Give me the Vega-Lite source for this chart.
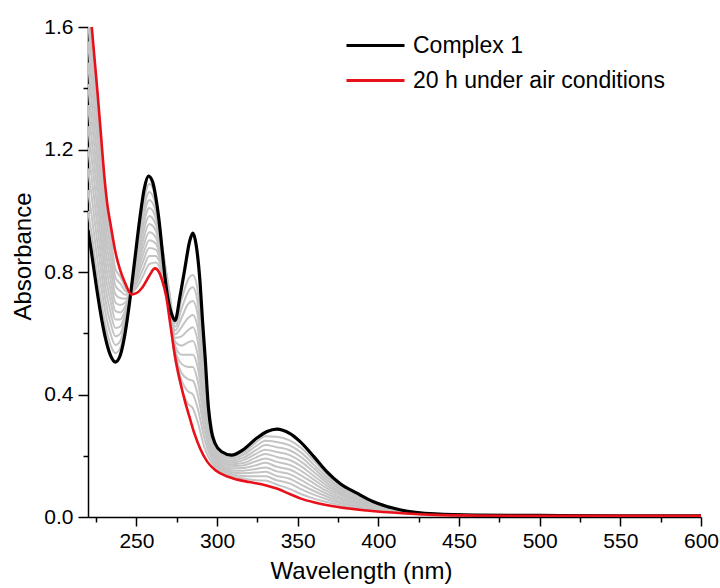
{
  "$schema": "https://vega.github.io/schema/vega-lite/v6.json",
  "width": 613,
  "height": 490,
  "autosize": {"type": "none"},
  "padding": {"left": 88, "top": 27, "right": 19, "bottom": 71},
  "background": "white",
  "config": {"view": {"stroke": null}, "font": "Liberation Sans"},
  "datasets": {
    "gray": [
      {"s":"g1","w":220,"a":0.999},{"s":"g2","w":220,"a":1.068},{"s":"g3","w":220,"a":1.138},{"s":"g4","w":220,"a":1.207},{"s":"g5","w":220,"a":1.276},{"s":"g6","w":220,"a":1.345},{"s":"g7","w":220,"a":1.414},{"s":"g8","w":220,"a":1.484},{"s":"g9","w":220,"a":1.553},{"s":"g10","w":220,"a":1.622},{"s":"g11","w":220,"a":1.691},
      {"s":"g1","w":222,"a":0.933},{"s":"g2","w":222,"a":0.995},{"s":"g3","w":222,"a":1.058},{"s":"g4","w":222,"a":1.12},{"s":"g5","w":222,"a":1.183},{"s":"g6","w":222,"a":1.245},{"s":"g7","w":222,"a":1.308},{"s":"g8","w":222,"a":1.37},{"s":"g9","w":222,"a":1.433},{"s":"g10","w":222,"a":1.495},{"s":"g11","w":222,"a":1.558},
      {"s":"g1","w":225,"a":0.817},{"s":"g2","w":225,"a":0.873},{"s":"g3","w":225,"a":0.93},{"s":"g4","w":225,"a":0.987},{"s":"g5","w":225,"a":1.043},{"s":"g6","w":225,"a":1.1},{"s":"g7","w":225,"a":1.157},{"s":"g8","w":225,"a":1.213},{"s":"g9","w":225,"a":1.27},{"s":"g10","w":225,"a":1.327},{"s":"g11","w":225,"a":1.383},
      {"s":"g1","w":228,"a":0.709},{"s":"g2","w":228,"a":0.758},{"s":"g3","w":228,"a":0.808},{"s":"g4","w":228,"a":0.857},{"s":"g5","w":228,"a":0.906},{"s":"g6","w":228,"a":0.955},{"s":"g7","w":228,"a":1.004},{"s":"g8","w":228,"a":1.053},{"s":"g9","w":228,"a":1.103},{"s":"g10","w":228,"a":1.152},{"s":"g11","w":228,"a":1.201},
      {"s":"g1","w":231,"a":0.621},{"s":"g2","w":231,"a":0.662},{"s":"g3","w":231,"a":0.702},{"s":"g4","w":231,"a":0.743},{"s":"g5","w":231,"a":0.784},{"s":"g6","w":231,"a":0.825},{"s":"g7","w":231,"a":0.866},{"s":"g8","w":231,"a":0.907},{"s":"g9","w":231,"a":0.947},{"s":"g10","w":231,"a":0.988},{"s":"g11","w":231,"a":1.029},
      {"s":"g1","w":234,"a":0.561},{"s":"g2","w":234,"a":0.597},{"s":"g3","w":234,"a":0.633},{"s":"g4","w":234,"a":0.668},{"s":"g5","w":234,"a":0.704},{"s":"g6","w":234,"a":0.74},{"s":"g7","w":234,"a":0.776},{"s":"g8","w":234,"a":0.812},{"s":"g9","w":234,"a":0.848},{"s":"g10","w":234,"a":0.883},{"s":"g11","w":234,"a":0.919},
      {"s":"g1","w":237,"a":0.535},{"s":"g2","w":237,"a":0.562},{"s":"g3","w":237,"a":0.59},{"s":"g4","w":237,"a":0.617},{"s":"g5","w":237,"a":0.645},{"s":"g6","w":237,"a":0.672},{"s":"g7","w":237,"a":0.7},{"s":"g8","w":237,"a":0.727},{"s":"g9","w":237,"a":0.755},{"s":"g10","w":237,"a":0.782},{"s":"g11","w":237,"a":0.81},
      {"s":"g1","w":240,"a":0.552},{"s":"g2","w":240,"a":0.575},{"s":"g3","w":240,"a":0.598},{"s":"g4","w":240,"a":0.622},{"s":"g5","w":240,"a":0.645},{"s":"g6","w":240,"a":0.668},{"s":"g7","w":240,"a":0.692},{"s":"g8","w":240,"a":0.715},{"s":"g9","w":240,"a":0.738},{"s":"g10","w":240,"a":0.762},{"s":"g11","w":240,"a":0.785},
      {"s":"g1","w":243,"a":0.622},{"s":"g2","w":243,"a":0.635},{"s":"g3","w":243,"a":0.648},{"s":"g4","w":243,"a":0.661},{"s":"g5","w":243,"a":0.674},{"s":"g6","w":243,"a":0.687},{"s":"g7","w":243,"a":0.7},{"s":"g8","w":243,"a":0.713},{"s":"g9","w":243,"a":0.726},{"s":"g10","w":243,"a":0.739},{"s":"g11","w":243,"a":0.752},
      {"s":"g1","w":246,"a":0.721},{"s":"g2","w":246,"a":0.722},{"s":"g3","w":246,"a":0.723},{"s":"g4","w":246,"a":0.724},{"s":"g5","w":246,"a":0.725},{"s":"g6","w":246,"a":0.726},{"s":"g7","w":246,"a":0.727},{"s":"g8","w":246,"a":0.728},{"s":"g9","w":246,"a":0.729},{"s":"g10","w":246,"a":0.73},{"s":"g11","w":246,"a":0.731},
      {"s":"g1","w":250,"a":0.877},{"s":"g2","w":250,"a":0.864},{"s":"g3","w":250,"a":0.851},{"s":"g4","w":250,"a":0.838},{"s":"g5","w":250,"a":0.825},{"s":"g6","w":250,"a":0.813},{"s":"g7","w":250,"a":0.8},{"s":"g8","w":250,"a":0.787},{"s":"g9","w":250,"a":0.774},{"s":"g10","w":250,"a":0.761},{"s":"g11","w":250,"a":0.748},
      {"s":"g1","w":254,"a":1.017},{"s":"g2","w":254,"a":0.994},{"s":"g3","w":254,"a":0.971},{"s":"g4","w":254,"a":0.947},{"s":"g5","w":254,"a":0.924},{"s":"g6","w":254,"a":0.901},{"s":"g7","w":254,"a":0.878},{"s":"g8","w":254,"a":0.855},{"s":"g9","w":254,"a":0.832},{"s":"g10","w":254,"a":0.808},{"s":"g11","w":254,"a":0.785},
      {"s":"g1","w":258,"a":1.087},{"s":"g2","w":258,"a":1.061},{"s":"g3","w":258,"a":1.035},{"s":"g4","w":258,"a":1.009},{"s":"g5","w":258,"a":0.983},{"s":"g6","w":258,"a":0.957},{"s":"g7","w":258,"a":0.93},{"s":"g8","w":258,"a":0.904},{"s":"g9","w":258,"a":0.878},{"s":"g10","w":258,"a":0.852},{"s":"g11","w":258,"a":0.826},
      {"s":"g1","w":262,"a":1.039},{"s":"g2","w":262,"a":1.018},{"s":"g3","w":262,"a":0.998},{"s":"g4","w":262,"a":0.977},{"s":"g5","w":262,"a":0.956},{"s":"g6","w":262,"a":0.935},{"s":"g7","w":262,"a":0.914},{"s":"g8","w":262,"a":0.893},{"s":"g9","w":262,"a":0.873},{"s":"g10","w":262,"a":0.852},{"s":"g11","w":262,"a":0.831},
      {"s":"g1","w":266,"a":0.888},{"s":"g2","w":266,"a":0.88},{"s":"g3","w":266,"a":0.872},{"s":"g4","w":266,"a":0.864},{"s":"g5","w":266,"a":0.855},{"s":"g6","w":266,"a":0.846},{"s":"g7","w":266,"a":0.836},{"s":"g8","w":266,"a":0.826},{"s":"g9","w":266,"a":0.815},{"s":"g10","w":266,"a":0.803},{"s":"g11","w":266,"a":0.79},
      {"s":"g1","w":270,"a":0.75},{"s":"g2","w":270,"a":0.746},{"s":"g3","w":270,"a":0.742},{"s":"g4","w":270,"a":0.738},{"s":"g5","w":270,"a":0.733},{"s":"g6","w":270,"a":0.727},{"s":"g7","w":270,"a":0.72},{"s":"g8","w":270,"a":0.712},{"s":"g9","w":270,"a":0.703},{"s":"g10","w":270,"a":0.693},{"s":"g11","w":270,"a":0.682},
      {"s":"g1","w":274,"a":0.633},{"s":"g2","w":274,"a":0.621},{"s":"g3","w":274,"a":0.609},{"s":"g4","w":274,"a":0.597},{"s":"g5","w":274,"a":0.585},{"s":"g6","w":274,"a":0.573},{"s":"g7","w":274,"a":0.56},{"s":"g8","w":274,"a":0.548},{"s":"g9","w":274,"a":0.536},{"s":"g10","w":274,"a":0.524},{"s":"g11","w":274,"a":0.512},
      {"s":"g1","w":278,"a":0.71},{"s":"g2","w":278,"a":0.68},{"s":"g3","w":278,"a":0.65},{"s":"g4","w":278,"a":0.62},{"s":"g5","w":278,"a":0.59},{"s":"g6","w":278,"a":0.56},{"s":"g7","w":278,"a":0.53},{"s":"g8","w":278,"a":0.5},{"s":"g9","w":278,"a":0.47},{"s":"g10","w":278,"a":0.445},{"s":"g11","w":278,"a":0.42},
      {"s":"g1","w":282,"a":0.775},{"s":"g2","w":282,"a":0.735},{"s":"g3","w":282,"a":0.695},{"s":"g4","w":282,"a":0.65},{"s":"g5","w":282,"a":0.61},{"s":"g6","w":282,"a":0.57},{"s":"g7","w":282,"a":0.53},{"s":"g8","w":282,"a":0.49},{"s":"g9","w":282,"a":0.45},{"s":"g10","w":282,"a":0.41},{"s":"g11","w":282,"a":0.37},
      {"s":"g1","w":285,"a":0.79},{"s":"g2","w":285,"a":0.75},{"s":"g3","w":285,"a":0.705},{"s":"g4","w":285,"a":0.66},{"s":"g5","w":285,"a":0.62},{"s":"g6","w":285,"a":0.575},{"s":"g7","w":285,"a":0.53},{"s":"g8","w":285,"a":0.49},{"s":"g9","w":285,"a":0.445},{"s":"g10","w":285,"a":0.4},{"s":"g11","w":285,"a":0.355},
      {"s":"g1","w":288,"a":0.74},{"s":"g2","w":288,"a":0.7},{"s":"g3","w":288,"a":0.66},{"s":"g4","w":288,"a":0.62},{"s":"g5","w":288,"a":0.575},{"s":"g6","w":288,"a":0.53},{"s":"g7","w":288,"a":0.49},{"s":"g8","w":288,"a":0.445},{"s":"g9","w":288,"a":0.4},{"s":"g10","w":288,"a":0.355},{"s":"g11","w":288,"a":0.31},
      {"s":"g1","w":292,"a":0.5},{"s":"g2","w":292,"a":0.47},{"s":"g3","w":292,"a":0.45},{"s":"g4","w":292,"a":0.42},{"s":"g5","w":292,"a":0.4},{"s":"g6","w":292,"a":0.37},{"s":"g7","w":292,"a":0.35},{"s":"g8","w":292,"a":0.32},{"s":"g9","w":292,"a":0.29},{"s":"g10","w":292,"a":0.26},{"s":"g11","w":292,"a":0.23},
      {"s":"g1","w":296,"a":0.317},{"s":"g2","w":296,"a":0.303},{"s":"g3","w":296,"a":0.29},{"s":"g4","w":296,"a":0.277},{"s":"g5","w":296,"a":0.263},{"s":"g6","w":296,"a":0.25},{"s":"g7","w":296,"a":0.237},{"s":"g8","w":296,"a":0.223},{"s":"g9","w":296,"a":0.21},{"s":"g10","w":296,"a":0.197},{"s":"g11","w":296,"a":0.183},
      {"s":"g1","w":300,"a":0.228},{"s":"g2","w":300,"a":0.221},{"s":"g3","w":300,"a":0.214},{"s":"g4","w":300,"a":0.207},{"s":"g5","w":300,"a":0.2},{"s":"g6","w":300,"a":0.193},{"s":"g7","w":300,"a":0.185},{"s":"g8","w":300,"a":0.178},{"s":"g9","w":300,"a":0.171},{"s":"g10","w":300,"a":0.164},{"s":"g11","w":300,"a":0.157},
      {"s":"g1","w":308,"a":0.196},{"s":"g2","w":308,"a":0.19},{"s":"g3","w":308,"a":0.184},{"s":"g4","w":308,"a":0.178},{"s":"g5","w":308,"a":0.172},{"s":"g6","w":308,"a":0.166},{"s":"g7","w":308,"a":0.159},{"s":"g8","w":308,"a":0.153},{"s":"g9","w":308,"a":0.147},{"s":"g10","w":308,"a":0.141},{"s":"g11","w":308,"a":0.135},
      {"s":"g1","w":316,"a":0.21},{"s":"g2","w":316,"a":0.202},{"s":"g3","w":316,"a":0.193},{"s":"g4","w":316,"a":0.185},{"s":"g5","w":316,"a":0.176},{"s":"g6","w":316,"a":0.168},{"s":"g7","w":316,"a":0.16},{"s":"g8","w":316,"a":0.151},{"s":"g9","w":316,"a":0.143},{"s":"g10","w":316,"a":0.134},{"s":"g11","w":316,"a":0.126},
      {"s":"g1","w":324,"a":0.243},{"s":"g2","w":324,"a":0.231},{"s":"g3","w":324,"a":0.218},{"s":"g4","w":324,"a":0.206},{"s":"g5","w":324,"a":0.194},{"s":"g6","w":324,"a":0.182},{"s":"g7","w":324,"a":0.169},{"s":"g8","w":324,"a":0.157},{"s":"g9","w":324,"a":0.145},{"s":"g10","w":324,"a":0.133},{"s":"g11","w":324,"a":0.12},
      {"s":"g1","w":330,"a":0.264},{"s":"g2","w":330,"a":0.249},{"s":"g3","w":330,"a":0.235},{"s":"g4","w":330,"a":0.22},{"s":"g5","w":330,"a":0.206},{"s":"g6","w":330,"a":0.191},{"s":"g7","w":330,"a":0.177},{"s":"g8","w":330,"a":0.162},{"s":"g9","w":330,"a":0.148},{"s":"g10","w":330,"a":0.133},{"s":"g11","w":330,"a":0.119},
      {"s":"g1","w":337,"a":0.262},{"s":"g2","w":337,"a":0.245},{"s":"g3","w":337,"a":0.228},{"s":"g4","w":337,"a":0.212},{"s":"g5","w":337,"a":0.196},{"s":"g6","w":337,"a":0.18},{"s":"g7","w":337,"a":0.164},{"s":"g8","w":337,"a":0.149},{"s":"g9","w":337,"a":0.134},{"s":"g10","w":337,"a":0.12},{"s":"g11","w":337,"a":0.106},
      {"s":"g1","w":345,"a":0.25},{"s":"g2","w":345,"a":0.234},{"s":"g3","w":345,"a":0.218},{"s":"g4","w":345,"a":0.202},{"s":"g5","w":345,"a":0.186},{"s":"g6","w":345,"a":0.17},{"s":"g7","w":345,"a":0.155},{"s":"g8","w":345,"a":0.14},{"s":"g9","w":345,"a":0.125},{"s":"g10","w":345,"a":0.11},{"s":"g11","w":345,"a":0.092},
      {"s":"g1","w":352,"a":0.226},{"s":"g2","w":352,"a":0.211},{"s":"g3","w":352,"a":0.196},{"s":"g4","w":352,"a":0.181},{"s":"g5","w":352,"a":0.166},{"s":"g6","w":352,"a":0.151},{"s":"g7","w":352,"a":0.136},{"s":"g8","w":352,"a":0.121},{"s":"g9","w":352,"a":0.106},{"s":"g10","w":352,"a":0.091},{"s":"g11","w":352,"a":0.075},
      {"s":"g1","w":360,"a":0.184},{"s":"g2","w":360,"a":0.171},{"s":"g3","w":360,"a":0.159},{"s":"g4","w":360,"a":0.147},{"s":"g5","w":360,"a":0.134},{"s":"g6","w":360,"a":0.122},{"s":"g7","w":360,"a":0.11},{"s":"g8","w":360,"a":0.097},{"s":"g9","w":360,"a":0.085},{"s":"g10","w":360,"a":0.073},{"s":"g11","w":360,"a":0.06},
      {"s":"g1","w":368,"a":0.139},{"s":"g2","w":368,"a":0.13},{"s":"g3","w":368,"a":0.121},{"s":"g4","w":368,"a":0.112},{"s":"g5","w":368,"a":0.103},{"s":"g6","w":368,"a":0.094},{"s":"g7","w":368,"a":0.085},{"s":"g8","w":368,"a":0.076},{"s":"g9","w":368,"a":0.067},{"s":"g10","w":368,"a":0.058},{"s":"g11","w":368,"a":0.049},
      {"s":"g1","w":376,"a":0.104},{"s":"g2","w":376,"a":0.097},{"s":"g3","w":376,"a":0.091},{"s":"g4","w":376,"a":0.084},{"s":"g5","w":376,"a":0.078},{"s":"g6","w":376,"a":0.072},{"s":"g7","w":376,"a":0.065},{"s":"g8","w":376,"a":0.059},{"s":"g9","w":376,"a":0.052},{"s":"g10","w":376,"a":0.046},{"s":"g11","w":376,"a":0.039},
      {"s":"g1","w":387,"a":0.073},{"s":"g2","w":387,"a":0.068},{"s":"g3","w":387,"a":0.064},{"s":"g4","w":387,"a":0.059},{"s":"g5","w":387,"a":0.055},{"s":"g6","w":387,"a":0.051},{"s":"g7","w":387,"a":0.046},{"s":"g8","w":387,"a":0.042},{"s":"g9","w":387,"a":0.037},{"s":"g10","w":387,"a":0.033},{"s":"g11","w":387,"a":0.028},
      {"s":"g1","w":397,"a":0.047},{"s":"g2","w":397,"a":0.045},{"s":"g3","w":397,"a":0.042},{"s":"g4","w":397,"a":0.04},{"s":"g5","w":397,"a":0.037},{"s":"g6","w":397,"a":0.035},{"s":"g7","w":397,"a":0.032},{"s":"g8","w":397,"a":0.029},{"s":"g9","w":397,"a":0.027},{"s":"g10","w":397,"a":0.024},{"s":"g11","w":397,"a":0.022},
      {"s":"g1","w":414,"a":0.022},{"s":"g2","w":414,"a":0.021},{"s":"g3","w":414,"a":0.02},{"s":"g4","w":414,"a":0.019},{"s":"g5","w":414,"a":0.018},{"s":"g6","w":414,"a":0.018},{"s":"g7","w":414,"a":0.017},{"s":"g8","w":414,"a":0.016},{"s":"g9","w":414,"a":0.015},{"s":"g10","w":414,"a":0.014},{"s":"g11","w":414,"a":0.013},
      {"s":"g1","w":435,"a":0.01},{"s":"g2","w":435,"a":0.01},{"s":"g3","w":435,"a":0.009},{"s":"g4","w":435,"a":0.009},{"s":"g5","w":435,"a":0.009},{"s":"g6","w":435,"a":0.009},{"s":"g7","w":435,"a":0.008},{"s":"g8","w":435,"a":0.008},{"s":"g9","w":435,"a":0.008},{"s":"g10","w":435,"a":0.007},{"s":"g11","w":435,"a":0.007},
      {"s":"g1","w":460,"a":0.006},{"s":"g2","w":460,"a":0.006},{"s":"g3","w":460,"a":0.006},{"s":"g4","w":460,"a":0.006},{"s":"g5","w":460,"a":0.006},{"s":"g6","w":460,"a":0.006},{"s":"g7","w":460,"a":0.006},{"s":"g8","w":460,"a":0.006},{"s":"g9","w":460,"a":0.006},{"s":"g10","w":460,"a":0.006},{"s":"g11","w":460,"a":0.006}
    ],
    "black": [
      {"s":"Complex 1","w":220,"a":0.937},{"s":"Complex 1","w":222,"a":0.87},{"s":"Complex 1","w":225,"a":0.76},{"s":"Complex 1","w":228,"a":0.66},{"s":"Complex 1","w":231,"a":0.58},{"s":"Complex 1","w":234,"a":0.527},{"s":"Complex 1","w":237,"a":0.506},{"s":"Complex 1","w":240,"a":0.528},{"s":"Complex 1","w":243,"a":0.6},{"s":"Complex 1","w":246,"a":0.71},{"s":"Complex 1","w":249,"a":0.84},{"s":"Complex 1","w":252,"a":0.97},{"s":"Complex 1","w":255,"a":1.075},{"s":"Complex 1","w":257.5,"a":1.113},{"s":"Complex 1","w":260,"a":1.095},{"s":"Complex 1","w":262,"a":1.045},{"s":"Complex 1","w":264,"a":0.97},{"s":"Complex 1","w":266,"a":0.87},{"s":"Complex 1","w":268,"a":0.77},{"s":"Complex 1","w":270,"a":0.7},{"s":"Complex 1","w":272,"a":0.66},{"s":"Complex 1","w":274,"a":0.642},{"s":"Complex 1","w":277,"a":0.72},{"s":"Complex 1","w":280,"a":0.81},{"s":"Complex 1","w":283,"a":0.9},{"s":"Complex 1","w":285,"a":0.927},{"s":"Complex 1","w":287,"a":0.89},{"s":"Complex 1","w":289.5,"a":0.763},{"s":"Complex 1","w":291,"a":0.64},{"s":"Complex 1","w":292.6,"a":0.523},{"s":"Complex 1","w":294.6,"a":0.36},{"s":"Complex 1","w":296.5,"a":0.28},{"s":"Complex 1","w":298.8,"a":0.24},{"s":"Complex 1","w":302.9,"a":0.213},{"s":"Complex 1","w":309,"a":0.202},{"s":"Complex 1","w":316,"a":0.219},{"s":"Complex 1","w":324.5,"a":0.257},{"s":"Complex 1","w":331,"a":0.279},{"s":"Complex 1","w":337,"a":0.287},{"s":"Complex 1","w":345,"a":0.273},{"s":"Complex 1","w":351.5,"a":0.246},{"s":"Complex 1","w":360,"a":0.197},{"s":"Complex 1","w":368,"a":0.148},{"s":"Complex 1","w":376,"a":0.11},{"s":"Complex 1","w":387,"a":0.077},{"s":"Complex 1","w":397,"a":0.05},{"s":"Complex 1","w":414,"a":0.023},{"s":"Complex 1","w":435,"a":0.01},{"s":"Complex 1","w":460,"a":0.006},{"s":"Complex 1","w":500,"a":0.005},{"s":"Complex 1","w":550,"a":0.004},{"s":"Complex 1","w":600,"a":0.004}
    ],
    "red": [
      {"s":"20 h under air conditions","w":220,"a":1.76},{"s":"20 h under air conditions","w":222,"a":1.62},{"s":"20 h under air conditions","w":224,"a":1.5},{"s":"20 h under air conditions","w":226,"a":1.38},{"s":"20 h under air conditions","w":228,"a":1.25},{"s":"20 h under air conditions","w":230,"a":1.12},{"s":"20 h under air conditions","w":232,"a":1.02},{"s":"20 h under air conditions","w":234,"a":0.955},{"s":"20 h under air conditions","w":237,"a":0.865},{"s":"20 h under air conditions","w":240,"a":0.805},{"s":"20 h under air conditions","w":243,"a":0.764},{"s":"20 h under air conditions","w":247,"a":0.727},{"s":"20 h under air conditions","w":250,"a":0.731},{"s":"20 h under air conditions","w":254,"a":0.752},{"s":"20 h under air conditions","w":258,"a":0.788},{"s":"20 h under air conditions","w":261.5,"a":0.812},{"s":"20 h under air conditions","w":264,"a":0.8},{"s":"20 h under air conditions","w":266,"a":0.772},{"s":"20 h under air conditions","w":268.5,"a":0.72},{"s":"20 h under air conditions","w":271,"a":0.63},{"s":"20 h under air conditions","w":274,"a":0.523},{"s":"20 h under air conditions","w":277,"a":0.445},{"s":"20 h under air conditions","w":280,"a":0.38},{"s":"20 h under air conditions","w":283,"a":0.325},{"s":"20 h under air conditions","w":286,"a":0.272},{"s":"20 h under air conditions","w":289.5,"a":0.224},{"s":"20 h under air conditions","w":294,"a":0.18},{"s":"20 h under air conditions","w":299,"a":0.153},{"s":"20 h under air conditions","w":305,"a":0.135},{"s":"20 h under air conditions","w":310,"a":0.126},{"s":"20 h under air conditions","w":320,"a":0.114},{"s":"20 h under air conditions","w":330,"a":0.104},{"s":"20 h under air conditions","w":337,"a":0.093},{"s":"20 h under air conditions","w":345,"a":0.075},{"s":"20 h under air conditions","w":352,"a":0.06},{"s":"20 h under air conditions","w":360,"a":0.048},{"s":"20 h under air conditions","w":372,"a":0.035},{"s":"20 h under air conditions","w":393,"a":0.021},{"s":"20 h under air conditions","w":415,"a":0.012},{"s":"20 h under air conditions","w":435,"a":0.007},{"s":"20 h under air conditions","w":460,"a":0.005},{"s":"20 h under air conditions","w":500,"a":0.004},{"s":"20 h under air conditions","w":600,"a":0.004}
    ]
  },
  "layer": [
    {
      "data": {"name": "gray"},
      "mark": {"type": "line", "color": "#c4c4c4", "strokeWidth": 2, "clip": true, "interpolate": "monotone"},
      "encoding": {
        "x": {"field": "w", "type": "quantitative", "scale": {"domain": [220, 600], "nice": false, "zero": false},
          "axis": {"orient": "bottom", "values": [225, 275, 325, 375, 425, 475, 525, 575], "labels": false, "domain": false, "grid": false, "ticks": true, "tickSize": 5, "tickWidth": 1.5, "tickColor": "black", "title": null}},
        "y": {"field": "a", "type": "quantitative", "scale": {"domain": [0, 1.6], "nice": false},
          "axis": {"orient": "left", "values": [0.2, 0.6, 1.0, 1.4], "labels": false, "domain": false, "grid": false, "ticks": true, "tickSize": 5, "tickWidth": 1.5, "tickColor": "black", "title": null}},
        "detail": {"field": "s"}
      }
    },
    {
      "data": {"name": "black"},
      "mark": {"type": "line", "strokeWidth": 3.2, "clip": true, "interpolate": "monotone"},
      "encoding": {
        "x": {"field": "w", "type": "quantitative",
          "axis": {"orient": "bottom", "values": [250, 300, 350, 400, 450, 500, 550, 600], "grid": false, "tickSize": 9, "tickWidth": 1.5, "tickColor": "black", "domainColor": "black", "domainWidth": 1.5, "labelFontSize": 21, "labelColor": "black", "labelPadding": 4, "labelFlush": false, "labelOverlap": false, "title": "Wavelength (nm)", "titleFontSize": 24, "titleFontWeight": "normal", "titleColor": "black", "titlePadding": 8, "titleX": 273}},
        "y": {"field": "a", "type": "quantitative",
          "axis": {"orient": "left", "values": [0, 0.4, 0.8, 1.2, 1.6], "format": ".1f", "grid": false, "tickSize": 10, "tickWidth": 1.5, "tickColor": "black", "domainColor": "black", "domainWidth": 1.5, "labelFontSize": 21, "labelColor": "black", "labelPadding": 5, "labelFlush": false, "labelOverlap": false, "title": "Absorbance", "titleFontSize": 24, "titleFontWeight": "normal", "titleColor": "black", "titlePadding": 8, "titleY": 229}},
        "color": {"field": "s", "type": "nominal",
          "scale": {"domain": ["Complex 1", "20 h under air conditions"], "range": ["#000000", "#e8101a"]},
          "legend": {"orient": "none", "legendX": 276, "legendY": 7, "title": null, "symbolType": "M-3,0H3", "symbolSize": 374, "symbolStrokeWidth": 3, "labelFontSize": 23, "labelColor": "black", "labelOffset": 26, "labelLimit": 500, "rowPadding": 11}}
      }
    },
    {
      "data": {"name": "red"},
      "mark": {"type": "line", "strokeWidth": 2.6, "clip": true, "interpolate": "monotone"},
      "encoding": {
        "x": {"field": "w", "type": "quantitative", "axis": null},
        "y": {"field": "a", "type": "quantitative", "axis": null},
        "color": {"field": "s", "type": "nominal"}
      }
    }
  ],
  "resolve": {"axis": {"x": "independent", "y": "independent"}}
}
